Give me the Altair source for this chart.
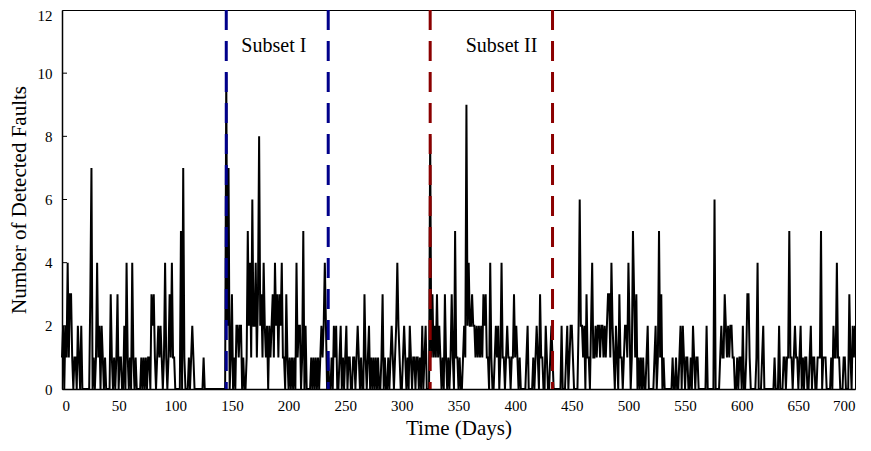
import altair as alt
import pandas as pd

# Daily number of detected faults, day 0..700 (one character per day, 'a' = 10)
fault_blocks = [
    "1202141331" "0110210200" "0000037010" "1412021010" "0003101013",  # 0-49
    "0110020410" "1041010000" "1010101103" "2310121210" "1410131411",  # 50-99
    "0000050710" "0010121000" "0000010000" "0000000000" "00000a2701",  # 100-149
    "3010221220" "1001524162" "2413823142" "1202123142" "3132411031",  # 150-199
    "0101010412" "2015020000" "1010101012" "1242010010" "2120012010",  # 200-249
    "1201100110" "1210100310" "1201010101" "0013010010" "1210124210",  # 250-299
    "0121010210" "1101101020" "1200081312" "1312101031" "0101310511",  # 300-349
    "0100121924" "2232212121" "2132311041" "0012120141" "1012110113",  # 350-399
    "1210100000" "1200001012" "1031100210" "0121000000" "0200012012",  # 400-449
    "2100002622" "1203110241" "1212212212" "1233142102" "1031101221",  # 450-499
    "4201531301" "0101001200" "0001201513" "0100000001" "0010012021",  # 500-549
    "0110010210" "1100000002" "0000006000" "0121132121" "2211001011",  # 550-599
    "0200133100" "0001400012" "0000000001" "0002000110" "1151101211",  # 600-649
    "0120101100" "1201100111" "5011100001" "0211411000" "1100031021",  # 650-699
    "2",                                                                # 700
]
faults = [int(c, 16) for c in "".join(fault_blocks)]
days = list(range(len(faults)))

subset_bounds = [145, 235, 325, 433]
subset_names = ["I", "I", "II", "II"]
subset_labels = ["Subset I", "Subset II"]
label_days = [187, 388]
label_vals = [10.85, 10.85]

x_ticks = list(range(0, 701, 50))
y_ticks = [0, 2, 4, 6, 8, 10, 12]
inner_y_ticks = [2, 4, 6, 8, 10]

FONT = "Liberation Serif"

df = pd.DataFrame({"day": days, "faults": faults})
bounds = pd.DataFrame({"day": subset_bounds, "subset": subset_names})
labels = pd.DataFrame({"day": label_days, "val": label_vals, "label": subset_labels})
yt = pd.DataFrame({"v": inner_y_ticks})

xs = alt.Scale(domain=[0, 700], nice=False, zero=False)
ys = alt.Scale(domain=[0, 12], nice=False)

line = alt.Chart(df).mark_line(color="black", strokeWidth=2).encode(
    x=alt.X("day:Q", scale=xs,
            axis=alt.Axis(values=x_ticks, title="Time (Days)", format="d")),
    y=alt.Y("faults:Q", scale=ys,
            axis=alt.Axis(values=y_ticks, title="Number of Detected Faults", format="d",
                          labelOffset={"condition": {"test": "datum.value == 12", "value": 5}, "value": 0})),
)

rules = alt.Chart(bounds).mark_rule(strokeDash=[20, 11], strokeWidth=3).encode(
    x=alt.X("day:Q", scale=xs),
    color=alt.Color("subset:N", scale=alt.Scale(domain=["I", "II"], range=["#00008b", "#8b0000"]), legend=None),
)

ticks = alt.Chart(yt).mark_rule(color="black", strokeWidth=1).encode(
    y=alt.Y("v:Q", scale=ys),
    x=alt.value(0),
    x2=alt.value(5),
)

texts = alt.Chart(labels).mark_text(font=FONT, fontSize=20, color="black").encode(
    x=alt.X("day:Q", scale=xs),
    y=alt.Y("val:Q", scale=ys),
    text="label:N",
)

chart = alt.layer(line, rules, ticks, texts).properties(
    width=793,
    height=379,
    autosize="none",
    padding={"left": 54, "top": 2, "right": 8, "bottom": 54},
).configure_view(
    stroke="black", strokeWidth=1
).configure_axis(
    grid=False,
    tickSize=0,
    domainColor="black",
    domainWidth=1.5,
    labelFont=FONT,
    labelFontSize=15,
    labelColor="black",
    titleFont=FONT,
    titleFontSize=21,
    titleFontWeight="normal",
    titleColor="black",
).configure_axisX(
    labelPadding=9, titlePadding=4
).configure_axisY(
    labelPadding=10, titlePadding=8
)

chart.save("out.html", embed_options={"renderer": "svg", "actions": False})
